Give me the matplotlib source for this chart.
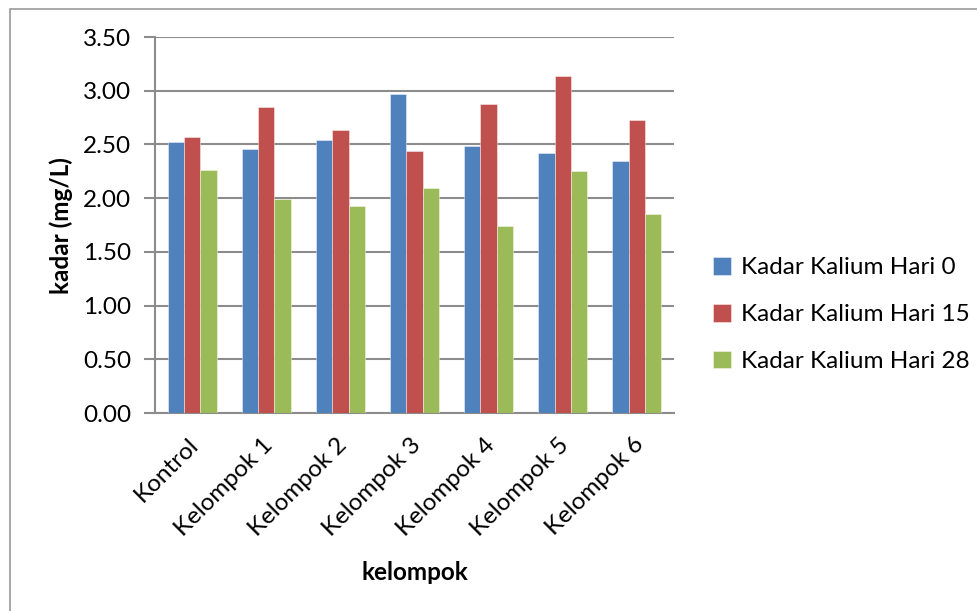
import matplotlib
matplotlib.use("Agg")
import matplotlib.pyplot as plt
from matplotlib.patches import Rectangle
import numpy as np

categories = ["Kontrol", "Kelompok 1", "Kelompok 2", "Kelompok 3", "Kelompok 4", "Kelompok 5", "Kelompok 6"]
series_names = ["Kadar Kalium Hari 0", "Kadar Kalium Hari 15", "Kadar Kalium Hari 28"]
hari0 = [2.52, 2.46, 2.54, 2.97, 2.49, 2.42, 2.35]
hari15 = [2.57, 2.85, 2.63, 2.44, 2.88, 3.14, 2.73]
hari28 = [2.26, 1.99, 1.93, 2.09, 1.74, 2.25, 1.85]
yticks = [0.0, 0.5, 1.0, 1.5, 2.0, 2.5, 3.0, 3.5]
colors = ["#4F81BD", "#C0504D", "#9BBB59"]

plt.rcParams['font.family'] = ['Lato', 'DejaVu Sans']
FS = 17.5

W, H = 978, 611
fig = plt.figure(figsize=(W / 100, H / 100), dpi=100)
fig.patches.append(Rectangle((9.5 / W, -0.1), 1.2, 1.1 - 8.5 / H, transform=fig.transFigure,
                             fill=False, edgecolor="#9a9a9a", linewidth=1.2))

ax = fig.add_axes([155 / W, 1 - 413 / H, (674 - 155) / W, (413 - 37) / H])
x = np.arange(len(categories))
bw = 0.22
for i, (vals, name) in enumerate(zip([hari0, hari15, hari28], series_names)):
    ax.bar(x + (i - 1) * bw, vals, bw, color=colors[i], label=name, zorder=3,
           edgecolor=(1, 1, 1, 0.5), linewidth=0.6)

ax.set_xlim(-0.5, len(categories) - 0.5)
ax.set_ylim(0, 3.5)
ax.set_yticks(yticks)
ax.set_yticklabels([f"{v:.2f}" for v in yticks], fontsize=FS)
ax.yaxis.grid(True, color="#8c8c8c", linewidth=1.5, zorder=0)
ax.set_axisbelow(True)
for s in ["top", "right"]:
    ax.spines[s].set_visible(False)
ax.spines["left"].set_color("#8c8c8c")
ax.spines["bottom"].set_color("#8c8c8c")
ax.spines["left"].set_linewidth(1.5)
ax.spines["bottom"].set_linewidth(1.5)
ax.tick_params(axis="y", length=8, width=1.5, color="#8c8c8c", pad=9)
ax.tick_params(axis="x", length=0, pad=15)
ax.set_xticks(x - 0.06)
ax.set_xticklabels(categories, rotation=45, ha="right", va="top", rotation_mode="anchor", fontsize=FS)

fig.text(61 / W, 1 - 226 / H, "kadar (mg/L)", fontsize=FS, fontweight="bold",
         rotation=90, ha="center", va="center")
fig.text(415 / W, 1 - 573 / H, "kelompok", fontsize=FS, fontweight="bold", ha="center", va="center")

leg = fig.legend(loc="upper left", bbox_to_anchor=(691 / W, 1 - 235 / H), frameon=False,
                 fontsize=FS, handlelength=0.75, handleheight=0.75, handletextpad=0.4,
                 labelspacing=1.05)

fig.savefig("out.png", dpi=100)
